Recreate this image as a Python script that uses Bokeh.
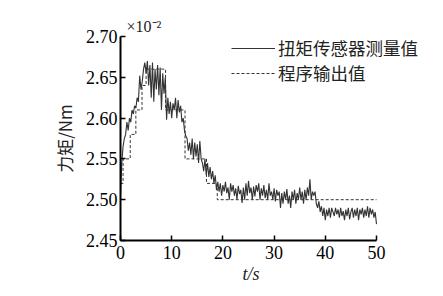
import numpy as np
from bokeh.plotting import figure
from bokeh.models import Range1d, Legend, LegendItem, FixedTicker, Title
from bokeh.embed import file_html
from bokeh.resources import INLINE

# measured torque (x10^-2 Nm), sampled every 0.25 s from 0 to 50 s
meas_v = [
    2.505, 2.545, 2.565, 2.575, 2.58, 2.595, 2.585, 2.60,
    2.595, 2.61, 2.605, 2.615, 2.612, 2.625, 2.62, 2.652,
    2.635, 2.645, 2.66, 2.668, 2.655, 2.67, 2.64, 2.665,
    2.625, 2.668, 2.62, 2.66, 2.635, 2.665, 2.628, 2.662,
    2.61, 2.655, 2.63, 2.65, 2.598, 2.625, 2.605, 2.62,
    2.60, 2.618, 2.61, 2.625, 2.60, 2.622, 2.607, 2.615,
    2.595, 2.60, 2.585, 2.578, 2.575, 2.56, 2.57, 2.555,
    2.575, 2.55, 2.57, 2.553, 2.568, 2.545, 2.572, 2.55,
    2.545, 2.535, 2.55, 2.53, 2.545, 2.528, 2.54, 2.525,
    2.535, 2.52, 2.53, 2.512, 2.522, 2.51, 2.52, 2.505,
    2.518, 2.51, 2.522, 2.508, 2.515, 2.50, 2.52, 2.51,
    2.518, 2.505, 2.514, 2.50, 2.517, 2.507, 2.512, 2.496,
    2.515, 2.50, 2.52, 2.505, 2.523, 2.508, 2.515, 2.50,
    2.516, 2.504, 2.518, 2.51, 2.52, 2.50, 2.514, 2.505,
    2.518, 2.502, 2.512, 2.50, 2.52, 2.505, 2.51, 2.50,
    2.514, 2.498, 2.512, 2.505, 2.51, 2.49, 2.508, 2.495,
    2.51, 2.50, 2.513, 2.495, 2.505, 2.49, 2.51, 2.50,
    2.512, 2.495, 2.508, 2.50, 2.515, 2.50, 2.51, 2.495,
    2.512, 2.50, 2.515, 2.505, 2.525, 2.50, 2.51, 2.505,
    2.51, 2.495, 2.49, 2.498, 2.485, 2.492, 2.48, 2.49,
    2.475, 2.488, 2.48, 2.49, 2.478, 2.49, 2.485, 2.48,
    2.49, 2.482, 2.488, 2.478, 2.49, 2.48, 2.486, 2.475,
    2.488, 2.48, 2.49, 2.476, 2.485, 2.49, 2.478, 2.488,
    2.48, 2.49, 2.475, 2.488, 2.482, 2.49, 2.478, 2.488,
    2.48, 2.492, 2.478, 2.49, 2.482, 2.488, 2.478, 2.485,
    2.47,
]
meas_t = list(np.arange(len(meas_v)) * 0.25)

# program output (step function)
prog_t = [0, 0.5, 1.9, 3.0, 4.2, 5.0, 8.8, 12.6, 16.8, 18.9, 50]
prog_v = [2.52, 2.55, 2.58, 2.61, 2.64, 2.66, 2.61, 2.55, 2.52, 2.50, 2.50]

x_ticks = [0, 10, 20, 30, 40, 50]
y_ticks = [2.45, 2.50, 2.55, 2.60, 2.65, 2.70]
y_labels = ["2.45", "2.50", "2.55", "2.60", "2.65", "2.70"]

W, H = 440, 290
p = figure(width=W, height=H, output_backend="svg", toolbar_location=None,
           x_range=Range1d(0, 60.16), y_range=Range1d(2.45, 2.70),
           min_border_left=120, min_border_right=12, min_border_top=36,
           min_border_bottom=50)
p.outline_line_color = None
p.grid.visible = False
p.background_fill_color = "white"

serif = "Liberation Serif"
for ax in (p.xaxis[0], p.yaxis[0]):
    ax.axis_line_width = 2
    ax.axis_line_color = "black"
    ax.major_tick_in = 5
    ax.major_tick_out = 0
    ax.major_tick_line_width = 1.5
    ax.minor_tick_line_color = None
    ax.major_label_text_font = serif
    ax.major_label_text_font_size = "18px"
    ax.major_label_text_color = "black"

p.xaxis[0].bounds = (0, 50)
p.xaxis[0].ticker = FixedTicker(ticks=x_ticks)
p.yaxis[0].ticker = FixedTicker(ticks=y_ticks)
p.yaxis[0].major_label_overrides = {t: l for t, l in zip(y_ticks, y_labels)}
p.xaxis[0].major_label_standoff = 5
p.yaxis[0].major_label_standoff = 3

p.yaxis[0].axis_label = "力矩/Nm"
p.yaxis[0].axis_label_text_font = "Noto Sans CJK SC"
p.yaxis[0].axis_label_text_font_style = "normal"
p.yaxis[0].axis_label_text_font_size = "17px"
p.yaxis[0].axis_label_standoff = 6
p.yaxis[0].axis_label_text_color = "#222222"

r_meas = p.line(meas_t, meas_v, line_color="#333333", line_width=1.1)
r_prog = p.step(prog_t, prog_v, mode="after", line_color="#333333",
                line_width=1, line_dash="3 2")

legend = Legend(items=[LegendItem(label="扭矩传感器测量值", renderers=[r_meas]),
                       LegendItem(label="程序输出值", renderers=[r_prog])],
                location=(111, 155), orientation="vertical")
legend.border_line_color = None
legend.background_fill_alpha = 0
legend.padding = 0
legend.margin = 0
legend.spacing = 0
legend.glyph_width = 44
legend.glyph_height = 20
legend.label_height = 20
legend.label_standoff = 3
legend.label_text_font = "Noto Sans CJK SC"
legend.label_text_font_size = "17.5px"
legend.label_text_color = "#222222"
p.add_layout(legend)

# exponent note above the axis
p.title.text = "×10⁻²"
p.title.align = "left"
p.title.offset = 6
p.title.text_font = serif
p.title.text_font_style = "normal"
p.title.text_font_size = "16px"
p.title.text_color = "#222222"
p.title.standoff = 4

# x axis label
p.add_layout(Title(text="t/s", align="left", offset=122, text_font=serif,
                   text_font_style="italic", text_font_size="18px",
                   text_color="#222222", standoff=0), "below")

open("out.html", "w").write(file_html(p, INLINE))
